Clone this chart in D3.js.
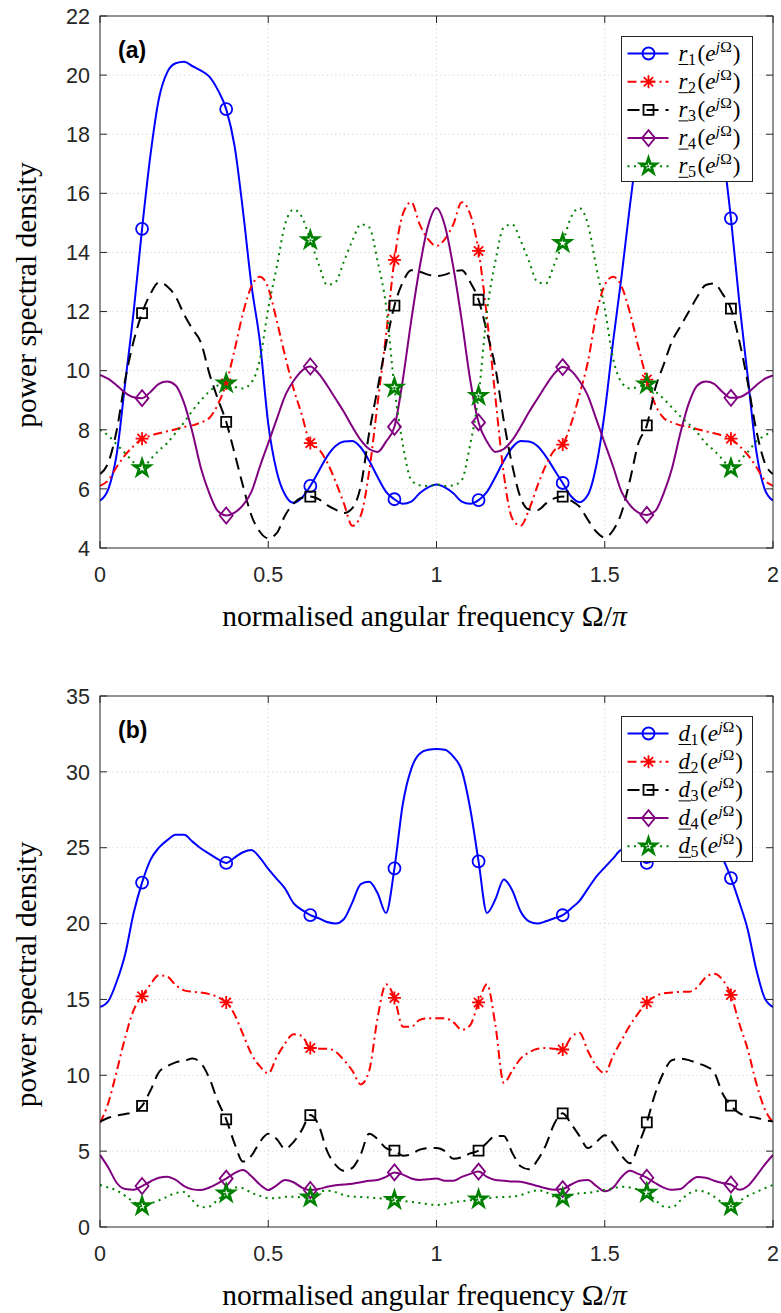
<!DOCTYPE html>
<html>
<head>
<meta charset="utf-8">
<script src="https://cdn.jsdelivr.net/npm/d3@7"></script>
<style>
  body { margin: 0; background: #fff; }
  svg { display: block; }
</style>
</head>
<body>
<svg id="fig" width="781" height="1313"></svg>
<script>
// Normalised angular frequency grid Ω/π, sampled every 0.025 from 0 to 2
const omega = d3.range(81).map(i => +(i * 0.025).toFixed(3));
const xTicks = [0, 0.5, 1, 1.5, 2];
const xTickLabels = ["0", "0.5", "1", "1.5", "2"];
const yTicksA = [4, 6, 8, 10, 12, 14, 16, 18, 20, 22];
const yTicksB = [0, 5, 10, 15, 20, 25, 30, 35];
const markerIdx = [5, 15, 25, 35, 45, 55, 65, 75];

// (a) PSDs r_1 … r_5
const r1 = [5.6, 6.0, 7.2, 9.6, 12.0, 14.8, 17.3, 19.2, 20.1, 20.4,
  20.45, 20.3, 20.15, 19.95, 19.5, 18.85, 17.6, 15.4, 12.9, 11.0,
  8.2, 6.6, 5.8, 5.53, 5.7, 6.1, 6.6, 7.1, 7.45, 7.6,
  7.62, 7.4, 6.95, 6.4, 5.9, 5.65, 5.5, 5.57, 5.85, 6.05,
  6.15, 6.05, 5.85, 5.57, 5.5, 5.62, 5.9, 6.4, 6.95, 7.4,
  7.62, 7.6, 7.45, 7.1, 6.65, 6.2, 5.75, 5.55, 5.8, 6.8,
  8.6, 11.0, 13.2, 15.6, 17.7, 18.95, 19.5, 19.95, 20.15, 20.3,
  20.45, 20.4, 20.1, 19.3, 17.5, 15.15, 12.3, 9.8, 7.3, 6.0,
  5.6];
const r2 = [6.1, 6.3, 6.75, 7.15, 7.45, 7.7, 7.8, 7.88, 7.95, 8.02,
  8.1, 8.15, 8.25, 8.4, 8.85, 9.57, 10.7, 11.95, 12.85, 13.18,
  12.8, 11.7, 10.5, 9.4, 8.5, 7.55, 7.35, 6.9, 6.25, 5.5,
  4.75, 5.1, 6.6, 8.9, 11.2, 13.75, 15.3, 15.7, 14.95, 14.45,
  14.22, 14.45, 14.95, 15.7, 15.3, 14.05, 11.8, 9.1, 6.5, 5.0,
  4.75, 5.3, 6.1, 6.8, 7.3, 7.5, 8.2, 9.2, 10.3, 11.9,
  12.9, 13.18, 12.85, 11.95, 10.8, 9.7, 8.85, 8.4, 8.25, 8.15,
  8.1, 8.02, 7.95, 7.88, 7.8, 7.7, 7.45, 7.15, 6.75, 6.3,
  6.1];
const r3 = [6.5, 6.9, 8.0, 9.7, 11.0, 11.95, 12.6, 12.98, 12.85, 12.5,
  11.9, 11.4, 10.95, 9.9, 9.05, 8.27, 7.2, 6.1, 5.1, 4.55,
  4.33, 4.5, 5.1, 5.5, 5.7, 5.74, 5.65, 5.45, 5.3, 5.18,
  5.35, 6.1, 7.9, 9.4, 10.9, 12.2, 13.0, 13.4, 13.35, 13.25,
  13.2, 13.25, 13.35, 13.4, 13.0, 12.4, 11.3, 10.1, 8.3, 6.8,
  5.7, 5.3, 5.28, 5.5, 5.68, 5.74, 5.6, 5.4, 4.95, 4.55,
  4.36, 4.6, 5.2, 6.3, 7.55, 8.15, 9.4, 10.2, 11.0, 11.5,
  12.0, 12.5, 12.9, 12.95, 12.6, 12.1, 11.0, 9.6, 8.0, 6.9,
  6.5];
const r4 = [9.86, 9.72, 9.5, 9.25, 9.1, 9.07, 9.28, 9.55, 9.63, 9.5,
  8.9, 7.9, 6.7, 5.85, 5.25, 5.1, 5.2, 5.45, 5.9, 6.75,
  7.55, 8.35, 9.15, 9.65, 10.0, 10.14, 9.9, 9.5, 9.05, 8.6,
  8.1, 7.65, 7.35, 7.25, 7.6, 8.1, 9.7, 11.7, 13.5, 14.9,
  15.5, 14.9, 13.5, 11.7, 9.7, 8.25, 7.6, 7.25, 7.35, 7.65,
  8.1, 8.6, 9.05, 9.5, 9.9, 10.12, 10.0, 9.65, 9.15, 8.35,
  7.55, 6.75, 5.9, 5.45, 5.2, 5.12, 5.25, 5.85, 6.7, 7.9,
  8.9, 9.5, 9.63, 9.55, 9.28, 9.08, 9.1, 9.25, 9.5, 9.72,
  9.84];
const r5 = [8.0, 7.8, 7.5, 7.2, 6.9, 6.7, 7.0, 7.3, 7.55, 7.9,
  8.25, 8.65, 9.0, 9.3, 9.5, 9.57, 9.45, 9.4, 9.6, 10.36,
  12.1, 13.5, 14.95, 15.45, 15.2, 14.42, 13.6, 12.9, 13.0, 13.7,
  14.4, 14.95, 14.85, 13.7, 12.2, 9.43, 7.5, 6.3, 6.12, 6.1,
  6.15, 6.1, 6.12, 6.3, 7.5, 9.15, 12.0, 13.7, 14.85, 14.95,
  14.4, 13.7, 13.0, 12.95, 13.6, 14.32, 15.2, 15.5, 14.95, 13.5,
  12.1, 10.4, 9.6, 9.4, 9.45, 9.54, 9.3, 9.05, 8.75, 8.45,
  8.2, 7.9, 7.55, 7.3, 7.0, 6.7, 6.95, 7.25, 7.6, 7.8,
  7.95];

// (b) PSDs d_1 … d_5
const d1 = [14.5, 14.9, 16.2, 18.0, 20.7, 22.7, 24.2, 25.0, 25.5, 25.85,
  25.85, 25.4, 24.95, 24.6, 24.25, 24.0, 24.35, 24.7, 24.85, 24.35,
  23.6, 22.95, 22.3, 21.35, 20.9, 20.56, 20.35, 20.1, 20.0, 20.3,
  21.4, 22.6, 22.75, 22.0, 20.7, 23.64, 27.9, 30.2, 31.2, 31.45,
  31.5, 31.45, 31.0, 30.1, 27.6, 24.1, 20.7, 21.6, 22.9, 22.2,
  20.8, 20.15, 20.0, 20.15, 20.35, 20.55, 21.0, 21.5, 22.3, 23.1,
  23.7, 24.3, 24.85, 24.75, 24.35, 24.0, 24.25, 24.6, 25.0, 25.4,
  25.85, 25.85, 25.5, 25.0, 24.3, 23.0, 21.4, 19.6, 17.0, 15.1,
  14.5];
const d2 = [6.85, 8.2, 10.3, 12.5, 14.3, 15.2, 16.0, 16.6, 16.5, 15.95,
  15.6, 15.5, 15.45, 15.35, 15.15, 14.8, 14.0, 12.7, 11.4, 10.6,
  10.13, 11.2, 12.1, 12.7, 12.6, 11.8, 11.75, 11.75, 11.55, 11.0,
  10.3, 9.4, 10.3, 13.8, 16.0, 15.1, 13.2, 13.2, 13.65, 13.76,
  13.76, 13.76, 13.5, 13.0, 13.3, 14.8, 16.0, 13.3, 9.5, 10.3,
  11.1, 11.5, 11.75, 11.8, 11.75, 11.7, 12.5, 12.8, 11.6, 10.6,
  10.13, 11.3, 12.3, 13.3, 14.1, 14.8, 15.2, 15.4, 15.45, 15.5,
  15.5, 15.8, 16.45, 16.7, 16.3, 15.3, 13.4, 11.7, 9.5, 7.8,
  6.9];
const d3s = [6.95, 7.2, 7.35, 7.45, 7.55, 7.98, 9.0, 10.2, 10.6, 10.85,
  10.95, 11.1, 10.8, 9.8, 8.3, 7.1, 5.5, 4.31, 4.7, 5.6,
  6.15, 5.8, 5.15, 5.6, 6.4, 7.38, 6.7, 5.0, 4.1, 3.7,
  3.9, 4.8, 6.15, 5.8, 5.2, 5.03, 4.7, 4.8, 5.1, 5.2,
  5.2, 5.0, 4.5, 4.6, 4.85, 5.03, 5.55, 6.0, 6.0, 4.9,
  4.0, 3.8, 4.4, 5.4, 6.8, 7.49, 6.8, 6.0, 5.2, 5.6,
  6.05, 5.5, 4.7, 4.2, 5.4, 6.9, 8.8, 10.2, 11.0, 11.1,
  11.0, 10.8, 10.6, 10.2, 8.8, 8.0, 7.5, 7.3, 7.2, 7.05,
  6.95];
const d4 = [4.75, 3.9, 2.9, 2.5, 2.45, 2.7, 3.0, 3.25, 3.32, 3.1,
  2.7, 2.48, 2.44, 2.6, 2.88, 3.19, 3.55, 3.75, 3.35, 2.8,
  2.44, 2.75, 3.1, 2.95, 2.6, 2.44, 2.5, 2.65, 2.75, 2.8,
  2.85, 2.95, 3.05, 3.1, 3.3, 3.6, 3.45, 3.2, 3.1, 3.15,
  3.2, 3.05, 3.05, 3.3, 3.5, 3.65, 3.3, 3.1, 3.05, 3.0,
  2.98, 2.85, 2.7, 2.55, 2.45, 2.5, 2.8, 3.05, 3.1, 2.7,
  2.35, 2.6, 3.3, 3.7, 3.5, 3.25, 2.9, 2.6, 2.45, 2.5,
  2.95, 3.3, 3.25, 3.05, 2.9, 2.8, 2.45, 2.7, 3.35, 4.1,
  4.75];
const d5 = [2.77, 2.6, 2.4, 2.05, 1.65, 1.38, 1.55, 1.75, 2.0, 2.25,
  2.3, 1.75, 1.3, 1.35, 1.8, 2.22, 2.6, 2.55, 2.25, 2.05,
  1.9, 1.9, 2.0, 2.0, 1.95, 1.95, 2.3, 2.4, 2.3, 2.1,
  2.0, 1.98, 1.95, 1.9, 1.85, 1.78, 1.72, 1.65, 1.58, 1.5,
  1.45, 1.5, 1.62, 1.7, 1.76, 1.82, 1.9, 1.96, 1.98, 2.0,
  2.1, 2.3, 2.42, 2.3, 2.0, 1.93, 2.1, 2.22, 2.25, 2.35,
  2.44, 2.55, 2.66, 2.6, 2.45, 2.26, 1.8, 1.35, 1.3, 1.75,
  2.2, 2.4, 2.3, 2.0, 1.6, 1.38, 1.7, 2.05, 2.3, 2.55,
  2.77];

// Line / marker styles shared by both panels
const styles = [
  { color: "#0000ff", dash: null,       marker: "circle" },
  { color: "#ff0000", dash: "9,4,2,4",  marker: "asterisk" },
  { color: "#000000", dash: "12,7",     marker: "square" },
  { color: "#800080", dash: null,       marker: "diamond" },
  { color: "#008000", dash: "2,4.5",    marker: "pentagram" }
];

const svg = d3.select("#fig");
const axisColor = "#262626";
const sansFont = "'Liberation Sans', Arial, Helvetica, sans-serif";
const serifFont = "'Liberation Serif', 'Times New Roman', serif";

function markerPath(kind) {
  switch (kind) {
    case "circle": {
      const r = 6;
      return `M${-r},0A${r},${r} 0 1,0 ${r},0A${r},${r} 0 1,0 ${-r},0Z`;
    }
    case "square": {
      const h = 5;
      return `M${-h},${-h}H${h}V${h}H${-h}Z`;
    }
    case "diamond": {
      const w = 6.5, h = 8;
      return `M0,${-h}L${w},0L0,${h}L${-w},0Z`;
    }
    case "asterisk": {
      const s = 6.5, t = s * 0.72;
      return `M${-s},0H${s}M0,${-s}V${s}M${-t},${-t}L${t},${t}M${-t},${t}L${t},${-t}`;
    }
    case "pentagram": {
      const R = 8.2, r = R * 0.382;
      const pts = d3.range(10).map(k => {
        const a = -Math.PI / 2 + k * Math.PI / 5;
        const rad = k % 2 === 0 ? R : r;
        return [rad * Math.cos(a), rad * Math.sin(a)];
      });
      return "M" + pts.map(p => p.join(",")).join("L") + "Z";
    }
  }
}

function drawMarker(g, kind, color, cx, cy) {
  g.append("path")
    .attr("d", markerPath(kind))
    .attr("transform", `translate(${cx},${cy})`)
    .attr("fill", "none")
    .attr("stroke", color)
    .attr("stroke-width", kind === "pentagram" ? 2.7 : 1.8)
    .attr("stroke-linejoin", "miter");
}

function drawPanel(opt) {
  const { top, bottom, left, right, yDomain, yTicks, series, letter, tag } = opt;
  const x = d3.scaleLinear().domain([0, 2]).range([left, right]);
  const y = d3.scaleLinear().domain(yDomain).range([bottom, top]);
  const g = svg.append("g");

  const clipId = "clip-" + tag;
  svg.append("clipPath").attr("id", clipId)
    .append("rect").attr("x", left).attr("y", top)
    .attr("width", right - left).attr("height", bottom - top);

  // dotted grid
  const grid = g.append("g").attr("stroke", "#d4d4d4").attr("stroke-width", 1)
    .attr("stroke-dasharray", "1.2,3");
  xTicks.slice(1, -1).forEach(t => {
    grid.append("line").attr("x1", x(t)).attr("x2", x(t)).attr("y1", top).attr("y2", bottom);
  });
  yTicks.slice(1, -1).forEach(t => {
    grid.append("line").attr("x1", left).attr("x2", right).attr("y1", y(t)).attr("y2", y(t));
  });

  // curves
  const line = d3.line()
    .x((d, i) => x(omega[i]))
    .y(d => y(d))
    .curve(d3.curveMonotoneX);
  const curves = g.append("g").attr("clip-path", `url(#${clipId})`);
  series.forEach((vals, si) => {
    const st = styles[si];
    curves.append("path")
      .datum(vals)
      .attr("d", line)
      .attr("fill", "none")
      .attr("stroke", st.color)
      .attr("stroke-width", 2)
      .attr("stroke-dasharray", st.dash)
      .attr("stroke-linejoin", "round");
  });
  series.forEach((vals, si) => {
    const st = styles[si];
    markerIdx.forEach(i => drawMarker(curves, st.marker, st.color, x(omega[i]), y(vals[i])));
  });

  // axes box with inward ticks on all sides
  const ax = g.append("g").attr("stroke", axisColor).attr("stroke-width", 1).attr("fill", "none");
  ax.append("rect").attr("x", left).attr("y", top)
    .attr("width", right - left).attr("height", bottom - top);
  const tl = 7;
  xTicks.forEach(t => {
    ax.append("line").attr("x1", x(t)).attr("x2", x(t)).attr("y1", bottom).attr("y2", bottom - tl);
    ax.append("line").attr("x1", x(t)).attr("x2", x(t)).attr("y1", top).attr("y2", top + tl);
  });
  yTicks.forEach(t => {
    ax.append("line").attr("x1", left).attr("x2", left + tl).attr("y1", y(t)).attr("y2", y(t));
    ax.append("line").attr("x1", right).attr("x2", right - tl).attr("y1", y(t)).attr("y2", y(t));
  });

  // tick labels
  const tk = g.append("g").attr("font-family", sansFont).attr("font-size", 21.5).attr("fill", axisColor);
  xTicks.forEach((t, i) => {
    tk.append("text").attr("x", x(t)).attr("y", bottom + 34)
      .attr("text-anchor", "middle").text(xTickLabels[i]);
  });
  yTicks.forEach(t => {
    tk.append("text").attr("x", left - 10).attr("y", y(t)).attr("dy", "0.36em")
      .attr("text-anchor", "end").text(String(t));
  });

  // axis labels
  const xl = g.append("text")
    .attr("x", (left + right) / 2 - 12).attr("y", bottom + 78)
    .attr("text-anchor", "middle")
    .attr("font-family", serifFont).attr("font-size", 29.5).attr("fill", "#000");
  xl.append("tspan").text("normalised angular frequency ");
  xl.append("tspan").text("Ω/");
  xl.append("tspan").attr("font-style", "italic").text("π");

  g.append("text")
    .attr("transform", `translate(36,${(top + bottom) / 2 + 13}) rotate(-90)`)
    .attr("text-anchor", "middle")
    .attr("font-family", serifFont).attr("font-size", 29.5).attr("fill", "#000")
    .text("power spectral density");

  // panel tag
  g.append("text").attr("x", left + 18).attr("y", top + 42)
    .attr("font-family", sansFont).attr("font-weight", "bold")
    .attr("font-size", 23).attr("fill", "#000").text(`(${tag})`);

  // legend
  const lx = right - 151.5, ly = top + 20.5, lw = 131, lh = 145;
  const lg = g.append("g");
  lg.append("rect").attr("x", lx).attr("y", ly).attr("width", lw).attr("height", lh)
    .attr("fill", "#fff").attr("stroke", axisColor).attr("stroke-width", 1);
  styles.forEach((st, si) => {
    const cy = ly + 17 + si * 28.2;
    lg.append("line").attr("x1", lx + 6).attr("x2", lx + 47).attr("y1", cy).attr("y2", cy)
      .attr("stroke", st.color).attr("stroke-width", 2).attr("stroke-dasharray", st.dash);
    drawMarker(lg, st.marker, st.color, lx + 27, cy);

    const tx = lx + 57, base = cy + 7;
    const t = lg.append("text").attr("x", tx).attr("y", base)
      .attr("font-family", serifFont).attr("font-size", 23).attr("fill", "#000");
    const sym = t.append("tspan").attr("font-style", "italic").text(letter);
    t.append("tspan").attr("font-size", 16).attr("dy", 4).attr("dx", 0.5).text(String(si + 1));
    t.append("tspan").attr("dy", -4).attr("dx", 1.5).text("(");
    t.append("tspan").attr("font-style", "italic").text("e");
    t.append("tspan").attr("font-size", 15.5).attr("font-style", "italic").attr("dy", -9).attr("dx", 0.5).text("j");
    t.append("tspan").attr("font-size", 15.5).text("Ω");
    t.append("tspan").attr("dy", 9).attr("dx", 1).text(")");
    const w = sym.node().getComputedTextLength();
    lg.append("line").attr("x1", tx).attr("x2", tx + w + 1)
      .attr("y1", base + 4).attr("y2", base + 4)
      .attr("stroke", "#000").attr("stroke-width", 1);
  });
}

drawPanel({
  top: 16, bottom: 548, left: 100, right: 773,
  yDomain: [4, 22], yTicks: yTicksA,
  series: [r1, r2, r3, r4, r5], letter: "r", tag: "a"
});
drawPanel({
  top: 696, bottom: 1227, left: 100, right: 773,
  yDomain: [0, 35], yTicks: yTicksB,
  series: [d1, d2, d3s, d4, d5], letter: "d", tag: "b"
});
</script>
</body>
</html>
